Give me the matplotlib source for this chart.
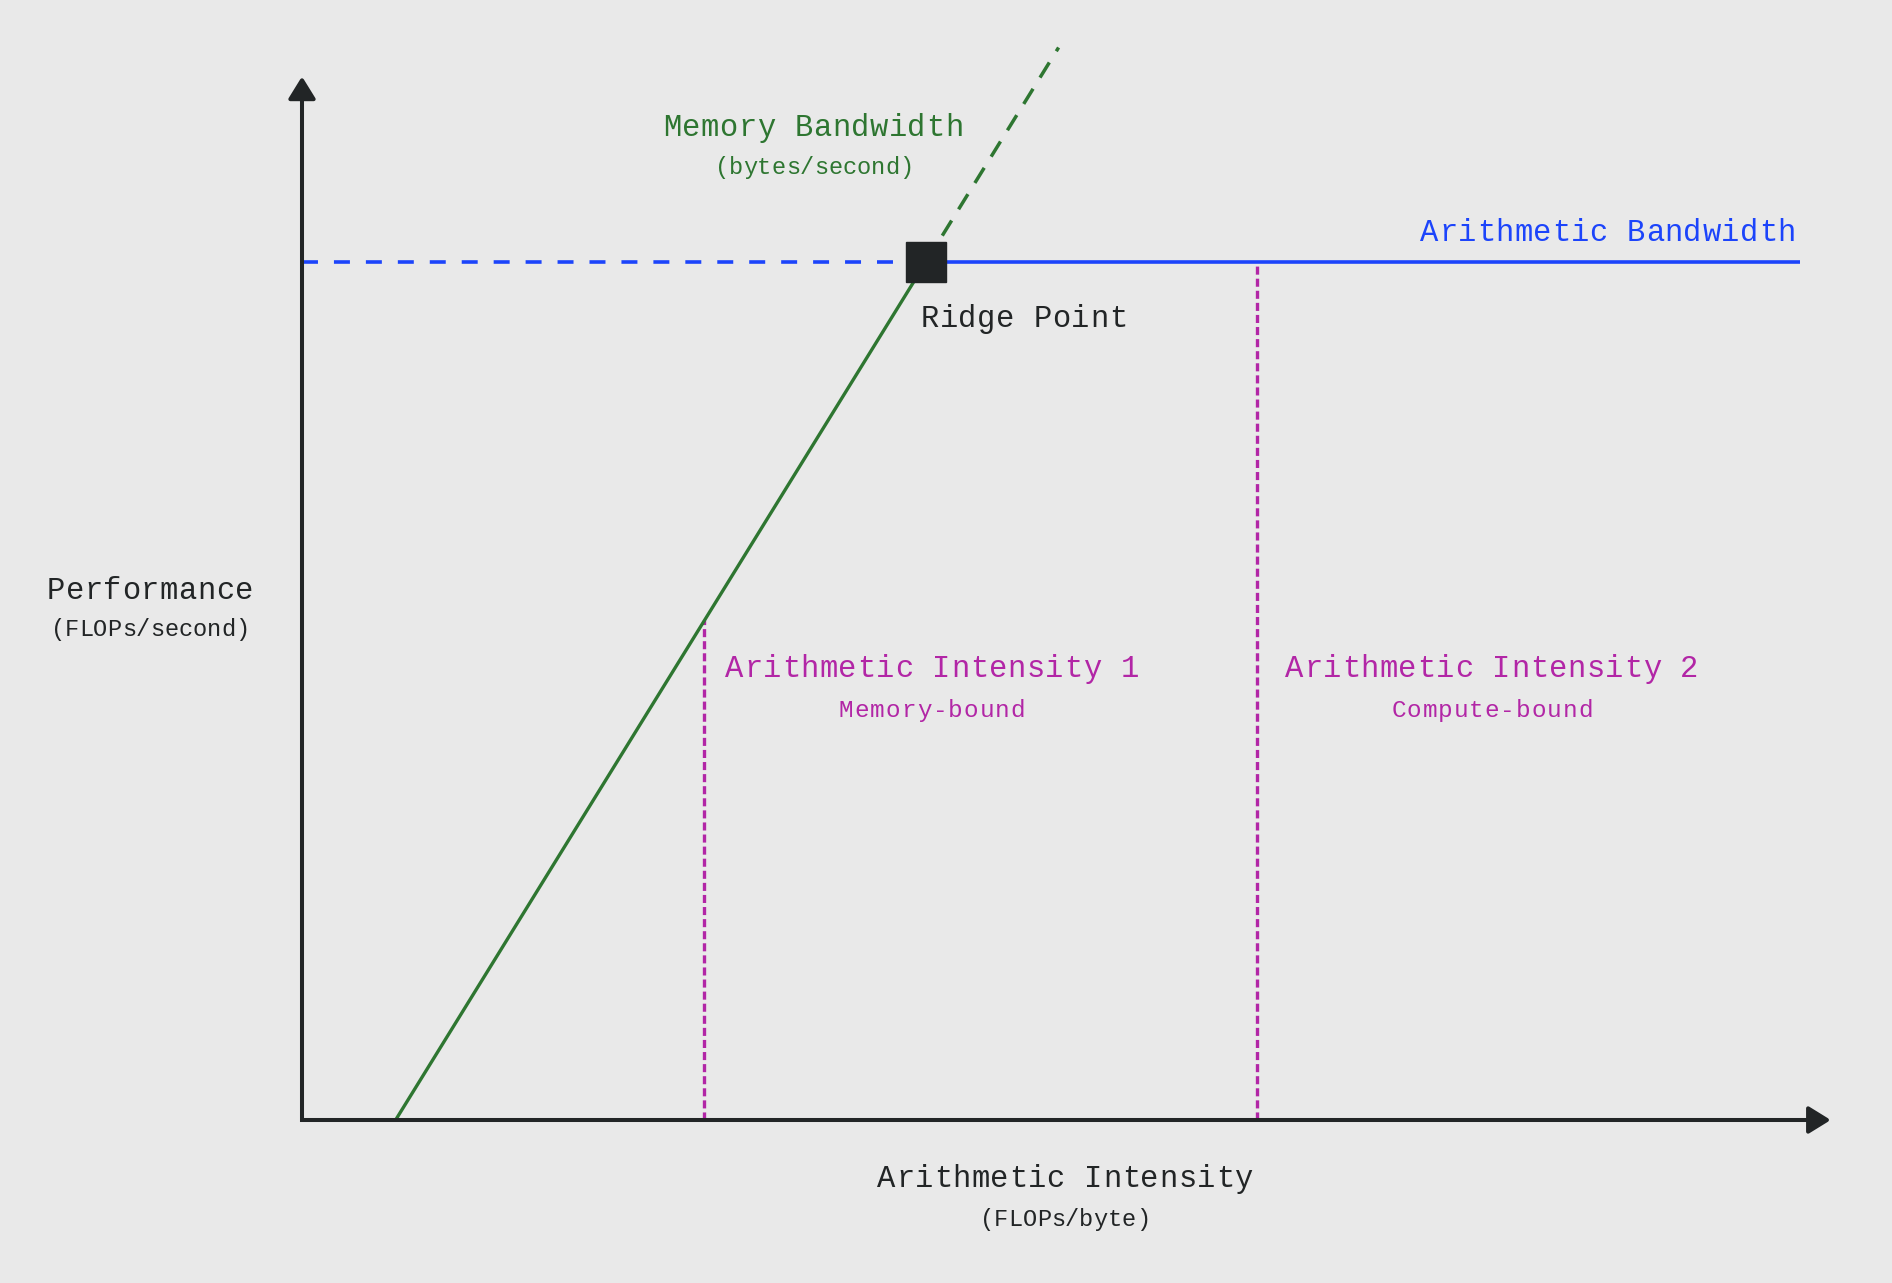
import matplotlib.pyplot as plt
from matplotlib.transforms import ScaledTranslation

# roofline sketch, arbitrary units
mem_start = 0.6          # memory roof meets the x axis here
ridge_x = 4.0
peak = 8.0
roof_end = 9.6
mem_top = 10.0           # end of the dashed memory extension
ai_x = [2.58, 6.12]
ai_labels = ['Arithmetic Intensity 1', 'Arithmetic Intensity 2']
ai_notes = ['Memory-bound', 'Compute-bound']
x_axis_end = 9.8
y_axis_end = 9.73

bg = '#e9e9e9'
dark = '#222526'
green = '#2e7631'
blue = '#1c44fb'
magenta = '#b226a6'

plt.rcParams['font.family'] = ['Liberation Mono', 'DejaVu Sans Mono']
plt.rcParams['lines.scale_dashes'] = False

W, H = 1892, 1283
fig = plt.figure(figsize=(W / 100, H / 100), dpi=100, facecolor=bg)
ax = fig.add_axes([0, 0, 1, 1], facecolor=bg)
# 156 px per x unit, 107.25 px per y unit, origin at (302, 1120)
ax.set_xlim(-302 / 156, (W - 302) / 156)
ax.set_ylim((1120 - H) / 107.25, 1120 / 107.25)
ax.axis('off')

slope = peak / (ridge_x - mem_start)

def mem_roof(x):
    return slope * (x - mem_start)

# memory roof
ax.plot([mem_start, ridge_x], [0, peak], color=green, lw=2.4, solid_capstyle='butt', zorder=3)
x_top = mem_start + mem_top / slope
ax.plot([ridge_x, x_top], [peak, mem_top], color=green, lw=2.5, dashes=(12.8, 9.5), zorder=3)

# compute roof
ax.plot([0, ridge_x], [peak, peak], color=blue, lw=2.6, dashes=(11.5, 11.5), zorder=3)
ax.plot([ridge_x, roof_end], [peak, peak], color=blue, lw=2.6, solid_capstyle='butt', zorder=3)

# arithmetic intensity markers
for x in ai_x:
    top = min(mem_roof(x), peak)
    ax.plot([x, x], [0, top], color=magenta, lw=2.4, dashes=(5.8, 2.9), zorder=2)

# ridge point
ax.plot([ridge_x], [peak], marker='s', ms=28.5, color=dark, zorder=5)

# axes with arrow heads
arrow = dict(arrowstyle='-|>,head_length=0.68,head_width=0.42', mutation_scale=20,
             lw=2.9, color=dark, shrinkA=0, shrinkB=0, capstyle='butt')
ax.annotate('', xy=(x_axis_end, 0), xytext=(-0.012, 0), arrowprops=arrow, zorder=4)
ax.annotate('', xy=(0, y_axis_end), xytext=(0, -0.018), arrowprops=arrow, zorder=4)


def spaced(px, py, s, adv, size, color):
    # monospace text with extra letter spacing, centred on px, baseline at py (image pixels)
    n = len(s)
    for i, ch in enumerate(s):
        off = (i - (n - 1) / 2) * adv / 100
        fig.text(px / W, 1 - py / H, ch, fontsize=size, color=color,
                 ha='center', va='baseline',
                 transform=fig.transFigure + ScaledTranslation(off, 0, fig.dpi_scale_trans))


big, small, note = 22, 17, 17.5
spaced(813, 136, 'Memory Bandwidth', 18.8, big, green)
spaced(814, 174, '(bytes/second)', 14.2, small, green)
spaced(1024, 327, 'Ridge Point', 18.8, big, dark)
spaced(1608, 241, 'Arithmetic Bandwidth', 18.8, big, blue)
spaced(150, 599, 'Performance', 18.8, big, dark)
spaced(150, 636, '(FLOPs/second)', 14.2, small, dark)
spaced(932, 677, ai_labels[0], 18.8, big, magenta)
spaced(932, 717, ai_notes[0], 15.6, note, magenta)
spaced(1492, 677, ai_labels[1], 18.8, big, magenta)
spaced(1492, 717, ai_notes[1], 15.6, note, magenta)
spaced(1065, 1187, 'Arithmetic Intensity', 18.8, big, dark)
spaced(1065, 1226, '(FLOPs/byte)', 14.2, small, dark)

fig.savefig('out.png', dpi=100, facecolor=bg)
